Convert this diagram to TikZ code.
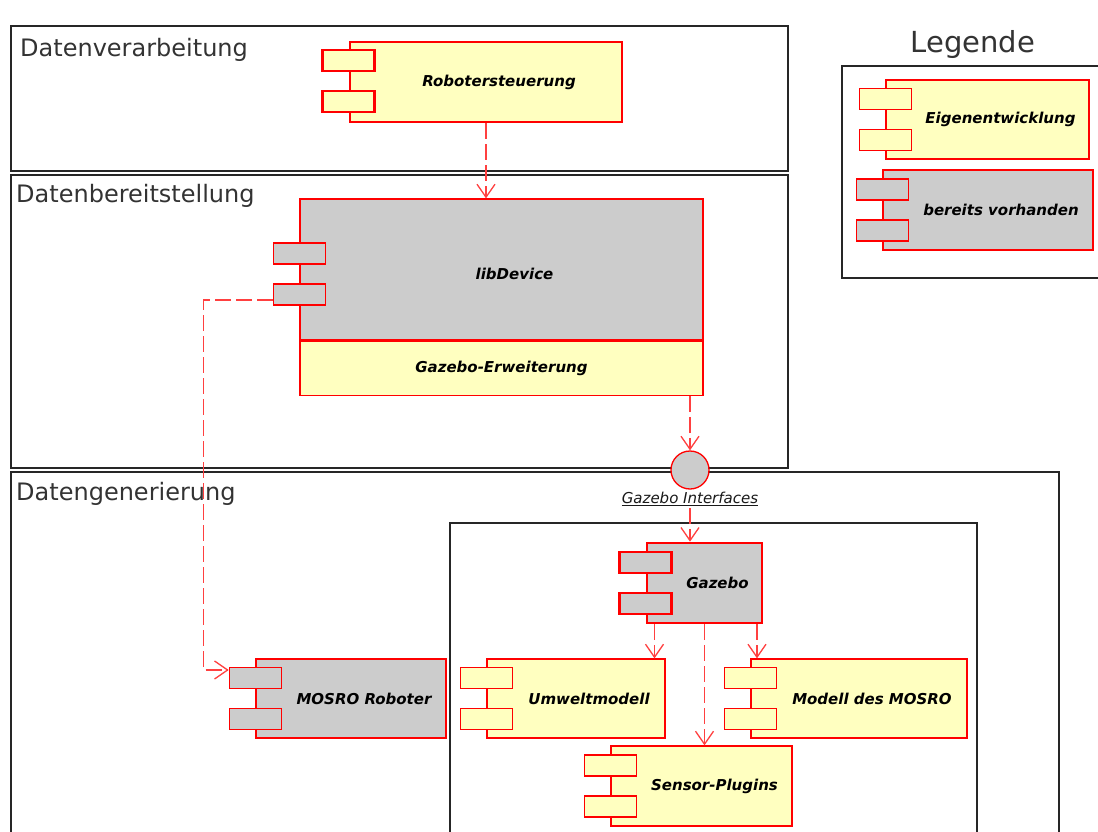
\documentclass[tikz,border=0pt]{standalone}
\usepackage{fontspec}
\setmainfont{DejaVu Sans}
\usetikzlibrary{arrows.meta,positioning}
\definecolor{compyellow}{HTML}{FFFFC0}
\definecolor{compgray}{HTML}{CCCCCC}
\definecolor{titlegray}{HTML}{333333}

\newcommand{\comptext}[1]{\hspace*{26pt}#1}
\newcommand{\compports}[3][0pt]{%
  \path ([yshift=#1]#2.west) coordinate (#2-w);
  \node[port,#3] (#2-p1) at ([yshift=20.5pt]#2-w) {};
  \node[port,#3] (#2-p2) at ([yshift=-20.5pt]#2-w) {};
}

\begin{document}
\begin{tikzpicture}[x=1pt,y=-1pt,
  frame/.style={draw=black!85,line width=1.2pt},
  title/.style={text=titlegray,font=\fontsize{24}{28}\selectfont,inner sep=0pt},
  comp/.style={draw=red,rectangle,inner sep=0pt,line width=1.3pt,
    font=\fontsize{15}{18}\selectfont\bfseries\itshape},
  thickcomp/.style={comp,line width=2.6pt},
  port/.style={draw=red,rectangle,inner sep=0pt,line width=1.3pt,
    minimum width=52pt,minimum height=21pt},
  thickport/.style={port,line width=2.6pt},
  iface/.style={circle,draw=red,fill=compgray,line width=1.3pt,minimum size=38pt,inner sep=0pt},
  dep/.style={draw=red!75,line width=1.3pt,dash pattern=on 16pt off 5pt,
    -{Straight Barb[length=13pt,width=18pt]}}]
\useasboundingbox (0,0) rectangle (1098,832);
\fill[white] (0,0) rectangle (1098,832);

\draw[frame] (11,26) rectangle (788,171);
\draw[frame] (11,175) rectangle (788,468);
\draw[frame] (11,472) rectangle (1059,845);
\draw[frame] (450,523) rectangle (977,845);
\draw[frame] (842,66) rectangle (1110,278);
\node[title,anchor=base west] (tverarb) at (20,57) {Datenverarbeitung};
\node[title,anchor=base west] (tbereit) at (16,202) {Datenbereitstellung};
\node[title,anchor=base west] (tgener) at (16,500) {Datengenerierung};
\node[title,anchor=base,font=\fontsize{29}{34}\selectfont] (tlegende) at (973,53) {Legende};

\node[thickcomp,fill=compyellow,minimum width=272pt,minimum height=80pt] (robo) at (486,82) {\comptext{Robotersteuerung}};
\compports[1pt]{robo}{thickport,fill=compyellow}

\node[comp,fill=compgray,minimum width=403pt,minimum height=141pt] (libdev) at (501.5,269.5) {\rule{0pt}{20pt}\comptext{libDevice}};
\node[comp,fill=compyellow,minimum width=403pt,minimum height=54pt,below=0pt of libdev] (gerw) {Gazebo-Erweiterung};
\compports[-4.5pt]{libdev}{fill=compgray}

\node[iface] (gi) at (690,470) {};
\node[font=\fontsize{15}{18}\selectfont\itshape,text=black!90,inner sep=2pt] (gilabel) at (690,499) {\underline{Gazebo Interfaces}};

\node[thickcomp,fill=compgray,minimum width=115pt,minimum height=80pt] (gazebo) at (704.5,583) {\comptext{Gazebo}};
\compports{gazebo}{thickport,fill=compgray}

\node[comp,fill=compyellow,minimum width=178pt,minimum height=79pt] (umwelt) at (576,698.5) {\comptext{Umweltmodell}};
\compports{umwelt}{fill=compyellow}
\node[comp,fill=compyellow,minimum width=216pt,minimum height=79pt] (modell) at (859,698.5) {\comptext{Modell des MOSRO}};
\compports{modell}{fill=compyellow}
\node[comp,fill=compyellow,minimum width=181pt,minimum height=80pt] (sensor) at (701.5,786) {\comptext{Sensor-Plugins}};
\compports{sensor}{fill=compyellow}

\node[comp,fill=compgray,minimum width=190pt,minimum height=79pt] (mosro) at (351,698.5) {\comptext{MOSRO Roboter}};
\compports{mosro}{fill=compgray}

\node[comp,fill=compyellow,minimum width=203pt,minimum height=79pt] (eigen) at (987.5,119.5) {\comptext{Eigenentwicklung}};
\compports{eigen}{fill=compyellow}
\node[comp,fill=compgray,minimum width=210pt,minimum height=80pt] (vorh) at (988,210) {\comptext{bereits vorhanden}};
\compports{vorh}{fill=compgray}

\draw[dep] (robo.south) -- (robo.south |- libdev.north);
\draw[dep] (gi |- gerw.south) -- (gi.north);
\draw[dep] (gi |- gilabel.south) -- (gi |- gazebo.north);
\draw[dep] ([xshift=-50pt]gazebo.south) -- ([xshift=-50pt]gazebo.south |- umwelt.north);
\draw[dep] (gazebo.south) -- (gazebo.south |- sensor.north);
\draw[dep] ([xshift=52.5pt]gazebo.south) -- ([xshift=52.5pt]gazebo.south |- modell.north);
\draw[dep] ([yshift=-5.5pt]libdev-p2.west) -- ++(-69,0) |- ([yshift=8pt]mosro-p1.west);
\end{tikzpicture}
\end{document}
